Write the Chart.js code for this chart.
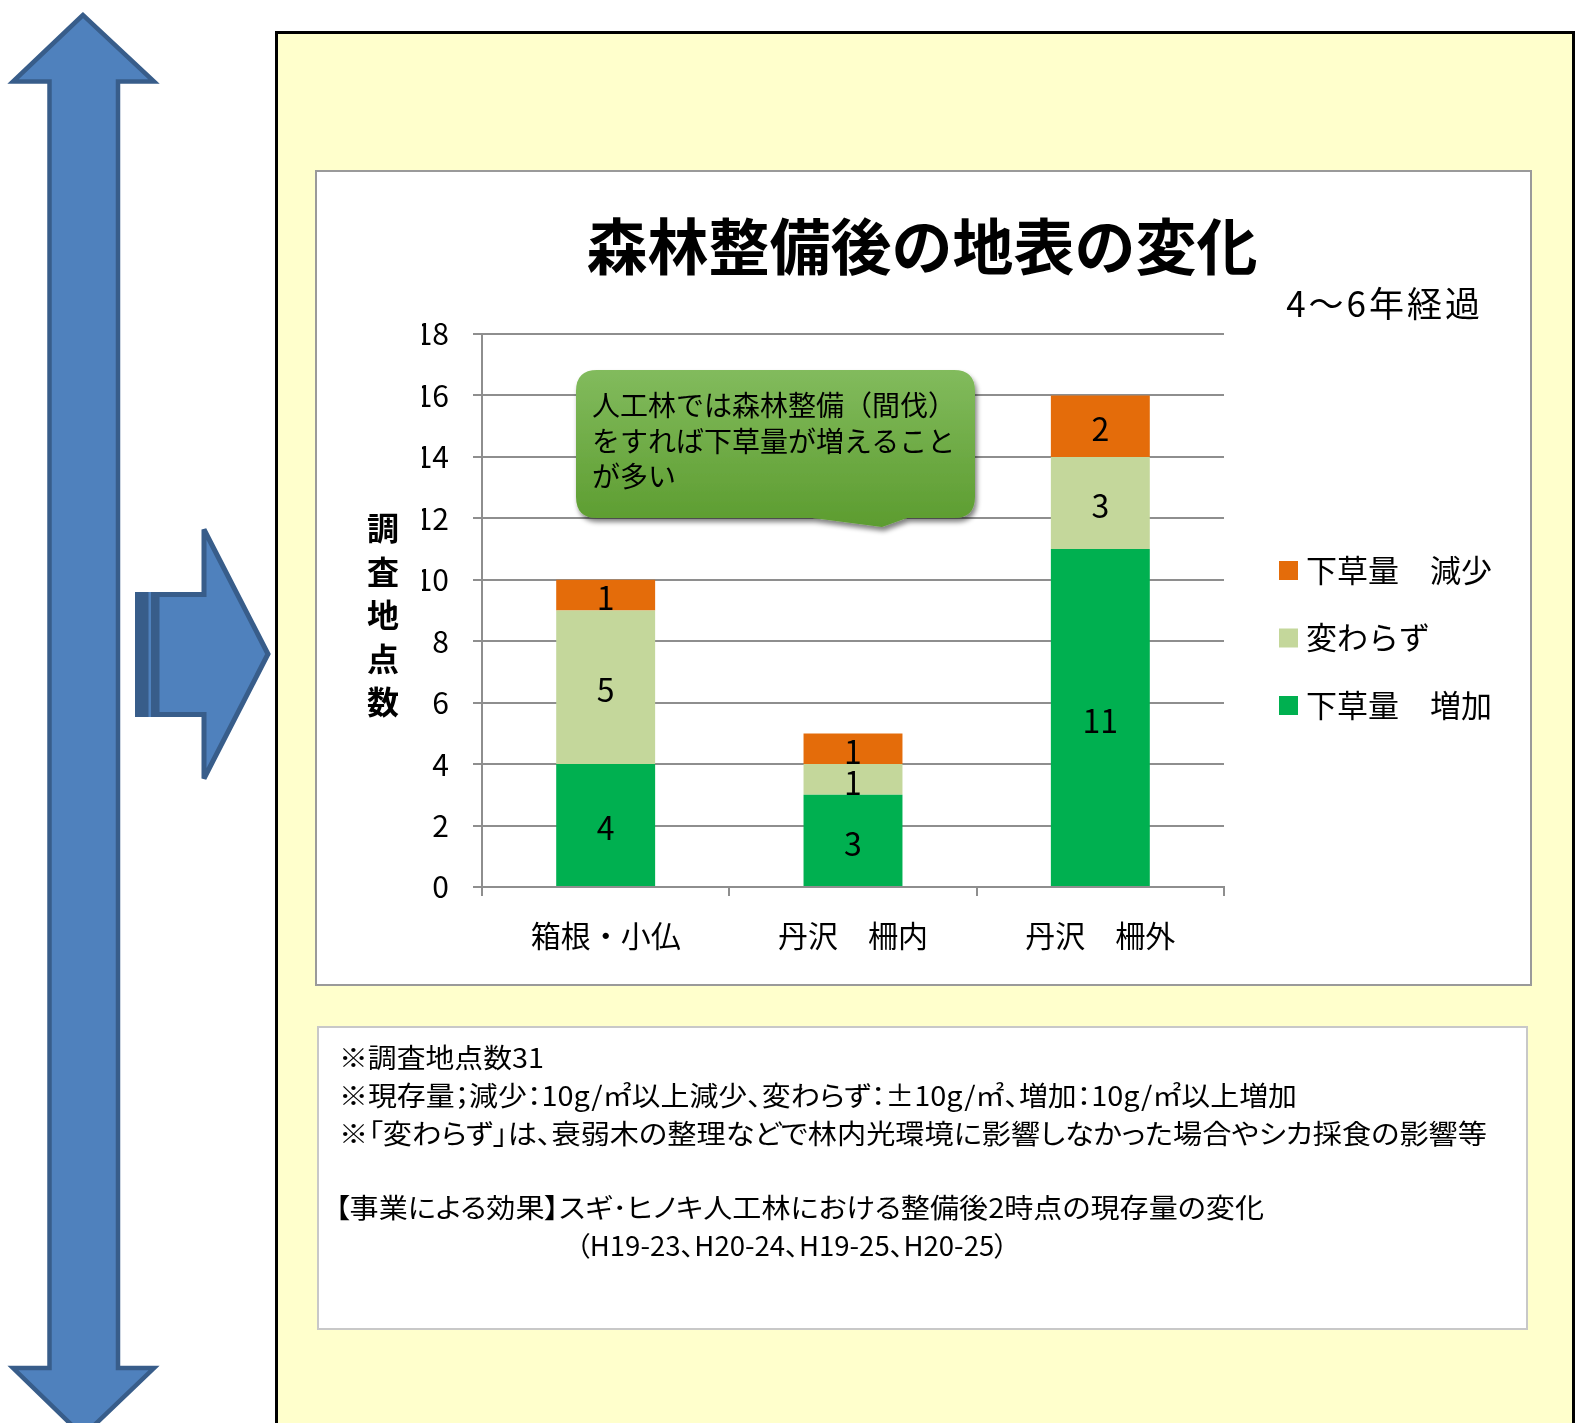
<!DOCTYPE html>
<html lang="ja">
<head>
<meta charset="utf-8">
<title>森林整備後の地表の変化</title>
<script src="https://cdn.jsdelivr.net/npm/chart.js@4.4.1/dist/chart.umd.min.js"></script>
<style>
  html, body { margin: 0; padding: 0; background: #fff; }
  body { width: 1576px; height: 1423px; position: relative; overflow: hidden;
         font-family: "Noto Sans CJK JP", sans-serif; color: #000; }
  .abs { position: absolute; }
  #panel { left: 275px; top: 31px; width: 1300px; height: 1450px; background: #FFFFCC;
           border: 3px solid #000; box-sizing: border-box; z-index: 1; }
  #chartBox { left: 315px; top: 170px; width: 1217px; height: 816px; background: #fff;
              border: 2px solid #9a9a9a; box-sizing: border-box; z-index: 2; }
  #noteBox { left: 317px; top: 1026px; width: 1211px; height: 304px; background: #fff;
             border: 2px solid #c8c8c8; box-sizing: border-box; z-index: 2; }
  #chart { left: 0; top: 0; z-index: 3; }
  #callout { left: 0; top: 0; z-index: 4; }
  .txt { z-index: 5; white-space: nowrap; }
  #title { left: 572px; top: 209px; width: 700px; text-align: center; font-size: 61px;
           font-weight: 700; line-height: 70px; }
  #sub { left: 1180px; top: 282px; width: 303px; text-align: right; font-size: 35px;
         line-height: 40px; letter-spacing: 3px; }
  #ytitle { left: 363px; top: 505px; width: 40px; text-align: center; font-size: 32px;
            font-weight: 700; line-height: 43.6px; white-space: normal; }
  #bubble { left: 592px; top: 387px; font-size: 28px; line-height: 35.5px; }
  .note { font-size: 27px; line-height: 38px; font-feature-settings: "palt"; transform-origin: 0 50%; }
</style>
</head>
<body>
<svg class="abs" style="left:0;top:0;z-index:0" width="1576" height="1423">
  <polygon points="83,15 13,81.5 49.5,81.5 49.5,1368 13,1368 83,1436 154,1368 118,1368 118,81.5 154,81.5"
           fill="#4F81BD" stroke="#385D8A" stroke-width="4.5"/>
  <rect x="135" y="592" width="25" height="125" fill="#4F81BD"/>
  <rect x="135" y="592" width="13.5" height="125" fill="#385D8A"/>
  <rect x="151" y="592" width="9" height="125" fill="#385D8A"/>
  <polygon points="157,594.5 204,594.5 204,529.5 268,654 204,778.5 204,714.5 157,714.5"
           fill="#4F81BD" stroke="#385D8A" stroke-width="5"/>
</svg>

<div id="panel" class="abs"></div>
<div id="chartBox" class="abs"></div>
<div id="noteBox" class="abs"></div>

<canvas id="chart" class="abs" width="1576" height="1423"></canvas>

<svg id="callout" class="abs" width="1576" height="1423">
  <defs>
    <linearGradient id="cg" x1="0" y1="0" x2="0" y2="1">
      <stop offset="0" stop-color="#82BB5D"/>
      <stop offset="1" stop-color="#5C9C2F"/>
    </linearGradient>
    <filter id="sh" x="-10%" y="-10%" width="130%" height="140%">
      <feGaussianBlur in="SourceAlpha" stdDeviation="2.5"/>
      <feOffset dx="2" dy="4" result="o"/>
      <feComponentTransfer><feFuncA type="linear" slope="0.5"/></feComponentTransfer>
      <feMerge><feMergeNode/><feMergeNode in="SourceGraphic"/></feMerge>
    </filter>
  </defs>
  <path d="M597,370 H954 Q975,370 975,391 V497 Q975,518 954,518 H907 L882,527 L813,518 H597 Q576,518 576,497 V391 Q576,370 597,370 Z"
        fill="url(#cg)" filter="url(#sh)"/>
</svg>

<div id="title" class="abs txt">森林整備後の地表の変化</div>
<div id="sub" class="abs txt">4～6年経過</div>
<div id="ytitle" class="abs txt">調<br>査<br>地<br>点<br>数</div>
<div id="bubble" class="abs txt">人工林では森林整備（間伐）<br>をすれば下草量が増えること<br>が多い</div>

<div class="abs txt note" style="left:339px;top:1038px" data-w="205">※調査地点数31</div>
<div class="abs txt note" style="left:339px;top:1076px" data-w="958">※現存量；減少：10g/㎡以上減少、変わらず：±10g/㎡、増加：10g/㎡以上増加</div>
<div class="abs txt note" style="left:339px;top:1114px" data-w="1148">※「変わらず」は、衰弱木の整理などで林内光環境に影響しなかった場合やシカ採食の影響等</div>
<div class="abs txt note" style="left:335px;top:1188px" data-w="929">【事業による効果】スギ･ヒノキ人工林における整備後2時点の現存量の変化</div>
<div class="abs txt note" style="left:576px;top:1226px" data-w="432">（H19-23、H20-24、H19-25、H20-25）</div>

<script>
// data
const categories = ['箱根・小仏', '丹沢　柵内', '丹沢　柵外'];
const increased = [4, 3, 11];
const unchanged = [5, 1, 3];
const decreased = [1, 1, 2];
const yTicks = [0, 2, 4, 6, 8, 10, 12, 14, 16, 18];

const seriesNames = ['下草量　増加', '変わらず', '下草量　減少'];
const seriesColors = ['#00B050', '#C4D79B', '#E46C0A'];

const FONT = '"Noto Sans CJK JP", sans-serif';
const GRID = '#8e8e8e';

// squeeze the note lines to the widths of the original
function fitNotes() {
    document.querySelectorAll('.note').forEach(el => {
        const nat = el.getBoundingClientRect().width;
        const want = +el.dataset.w;
        if (nat > 0) el.style.transform = 'scaleX(' + (want / nat) + ')';
    });
}

// numbers inside each stacked segment
const segmentLabels = {
    id: 'segmentLabels',
    afterDatasetsDraw(chart) {
        const ctx = chart.ctx;
        ctx.save();
        ctx.font = '32px ' + FONT;
        ctx.fillStyle = '#000';
        ctx.textAlign = 'center';
        ctx.textBaseline = 'middle';
        chart.data.datasets.forEach((ds, i) => {
            chart.getDatasetMeta(i).data.forEach((bar, j) => {
                const v = ds.data[j];
                if (!v) return;
                ctx.fillText(String(v), bar.x, (bar.y + bar.base) / 2 + 3);
            });
        });
        ctx.restore();
    }
};

// legend on the right, top series first
const sideLegend = {
    id: 'sideLegend',
    afterDraw(chart) {
        const ctx = chart.ctx;
        const x = chart.chartArea.right + 55;
        let y = 570;
        ctx.save();
        ctx.font = '31px ' + FONT;
        ctx.textBaseline = 'middle';
        ctx.textAlign = 'left';
        for (let i = chart.data.datasets.length - 1; i >= 0; i--) {
            const ds = chart.data.datasets[i];
            ctx.fillStyle = ds.backgroundColor;
            ctx.fillRect(x, y - 9, 19, 19);
            ctx.fillStyle = '#000';
            ctx.fillText(ds.label, x + 27, y);
            y += 67.5;
        }
        ctx.restore();
    }
};

function drawChart() {
    const ctx = document.getElementById('chart').getContext('2d');
    new Chart(ctx, {
        type: 'bar',
        data: {
            labels: categories,
            datasets: [
                { label: seriesNames[0], data: increased, backgroundColor: seriesColors[0] },
                { label: seriesNames[1], data: unchanged, backgroundColor: seriesColors[1] },
                { label: seriesNames[2], data: decreased, backgroundColor: seriesColors[2] }
            ]
        },
        options: {
            responsive: false,
            animation: false,
            events: [],
            layout: { padding: { left: 422, right: 352, top: 334, bottom: 466 } },
            datasets: { bar: { categoryPercentage: 1, barPercentage: 0.4, borderWidth: 0 } },
            plugins: {
                legend: { display: false },
                title: { display: false },
                tooltip: { enabled: false }
            },
            scales: {
                x: {
                    stacked: true,
                    grid: { offset: true, drawOnChartArea: false, drawTicks: true, tickLength: 9, color: GRID, lineWidth: 2 },
                    border: { color: GRID, width: 2 },
                    ticks: { color: '#000', font: { family: FONT, size: 30 }, padding: 22, maxRotation: 0, autoSkip: false },
                    afterFit: s => { s.height = 70; }
                },
                y: {
                    stacked: true,
                    min: yTicks[0],
                    max: yTicks[yTicks.length - 1],
                    afterBuildTicks: s => { s.ticks = yTicks.map(v => ({ value: v })); },
                    grid: { color: GRID, lineWidth: 2, tickLength: 9 },
                    border: { color: GRID, width: 2 },
                    ticks: { color: '#000', font: { family: FONT, size: 30 }, padding: 24 },
                    afterFit: s => { s.width = 60; }
                }
            }
        },
        plugins: [segmentLabels, sideLegend]
    });
}

document.fonts.ready.then(() => {
    fitNotes();
    drawChart();
});
</script>
</body>
</html>
